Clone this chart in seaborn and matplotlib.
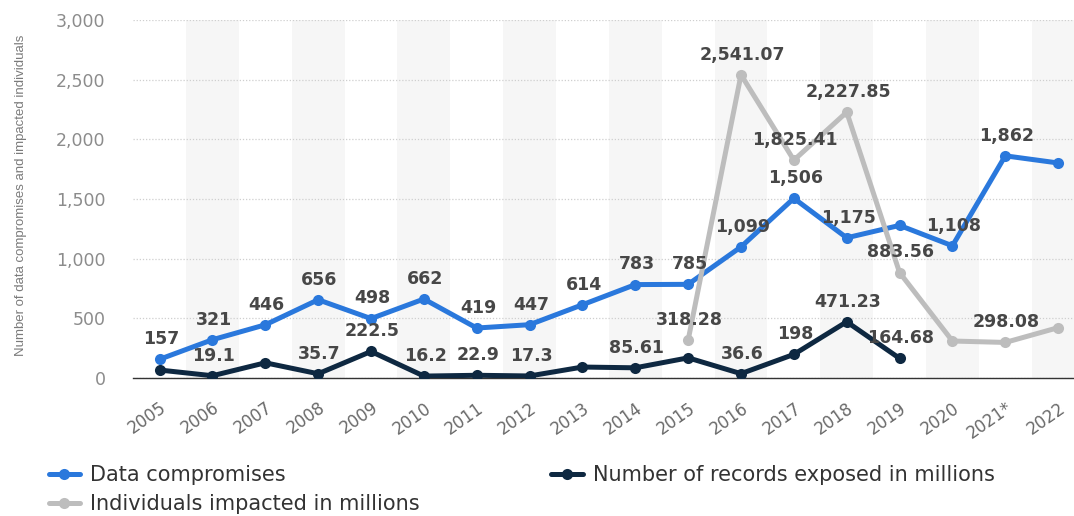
import numpy as np
import pandas as pd
import matplotlib
matplotlib.use("Agg")
import matplotlib.pyplot as plt
import seaborn as sns

years = ["2005", "2006", "2007", "2008", "2009", "2010", "2011", "2012", "2013",
         "2014", "2015", "2016", "2017", "2018", "2019", "2020", "2021*", "2022"]
data_compromises = [157, 321, 446, 656, 498, 662, 419, 447, 614, 783, 785, 1099,
                    1506, 1175, 1279, 1108, 1862, 1802]
records_exposed = [66.9, 19.1, 127.7, 35.7, 222.5, 16.2, 22.9, 17.3, 91.98, 85.61,
                   169.07, 36.6, 198, 471.23, 164.68, None, None, None]
individuals_impacted = [None, None, None, None, None, None, None, None, None, None,
                        318.28, 2541.07, 1825.41, 2227.85, 883.56, 310.12, 298.08, 422.14]
dc_labels = ["157", "321", "446", "656", "498", "662", "419", "447", "614", "783", "785",
             "1,099", "1,506", "1,175", None, "1,108", "1,862", None]
rec_labels = [None, "19.1", None, "35.7", "222.5", "16.2", "22.9", "17.3", None, "85.61",
              None, "36.6", "198", "471.23", "164.68", None, None, None]
ind_labels = [None] * 10 + ["318.28", "2,541.07", "1,825.41", "2,227.85", "883.56",
                            None, "298.08", None]
series_names = ["Data compromises", "Individuals impacted in millions",
                "Number of records exposed in millions"]
colors = ["#2a78dc", "#bdbdbd", "#0e2841"]

rows = []
for name, vals in zip(series_names, [data_compromises, individuals_impacted, records_exposed]):
    for i, v in enumerate(vals):
        if v is not None:
            rows.append({"x": i, "value": v, "series": name})
df = pd.DataFrame(rows)

sns.set_theme(style="white")
plt.rcParams["font.family"] = ["DejaVu Sans"]

fig = plt.figure(figsize=(10.74, 5.16), dpi=100)
ax = fig.add_axes([0.124, 0.2674, 0.876, 0.6938])

# alternating column shading
for i in range(len(years)):
    if i % 2 == 1:
        ax.axvspan(i - 0.5, i + 0.5, color="#f6f6f6", zorder=0, lw=0)

sns.lineplot(data=df, x="x", y="value", hue="series", hue_order=series_names,
             palette=colors, marker="o", markersize=8, markeredgewidth=0,
             linewidth=3.6, ax=ax, legend=True, zorder=3)

for vals, labs in [(data_compromises, dc_labels), (records_exposed, rec_labels),
                   (individuals_impacted, ind_labels)]:
    for i, (v, lab) in enumerate(zip(vals, labs)):
        if lab is not None and v is not None:
            ax.annotate(lab, (i, v), xytext=(1, 8), textcoords="offset points",
                        ha="center", va="bottom", fontsize=12.5, fontweight="bold",
                        color="#474747", zorder=5)

ax.set_xlim(-0.5, 17.3)
ax.set_ylim(0, 3000)
ax.set_yticks(range(0, 3001, 500))
ax.set_yticklabels([f"{t:,}" for t in range(0, 3001, 500)], fontsize=12.5, color="#8c8c8c")
ax.set_xticks(range(len(years)))
ax.set_xticklabels(years, rotation=35, ha="right", rotation_mode="anchor", fontsize=12,
                   color="#6a6a6a")
ax.tick_params(axis="x", length=0, pad=15)
ax.tick_params(axis="y", length=0, pad=20)
ax.grid(axis="y", linestyle=(0, (1, 1.5)), color="#cfcfcf", linewidth=0.9, zorder=1)
ax.grid(axis="x", visible=False)
for s in ["top", "right", "left"]:
    ax.spines[s].set_visible(False)
ax.spines["bottom"].set_color("#333333")
ax.spines["bottom"].set_linewidth(1.0)
ax.set_xlabel("")
ax.set_ylabel("Number of data compromises and impacted individuals", fontsize=9.5,
              color="#7a7a7a",
              family=["Liberation Sans Narrow", "Liberation Sans", "DejaVu Sans"])
ax.yaxis.set_label_coords(-0.113, 0.51)

handles, labels = ax.get_legend_handles_labels()
ax.get_legend().remove()
fig.legend(handles, labels, loc="lower left", bbox_to_anchor=(0.028, -0.033), ncol=2,
           frameon=False, handlelength=1.5, handletextpad=0.5,
           columnspacing=6.3, labelspacing=0.45, labelcolor="#333333",
           prop={"family": ["DejaVu Sans"], "size": 15})

fig.savefig("out.png", dpi=100)
